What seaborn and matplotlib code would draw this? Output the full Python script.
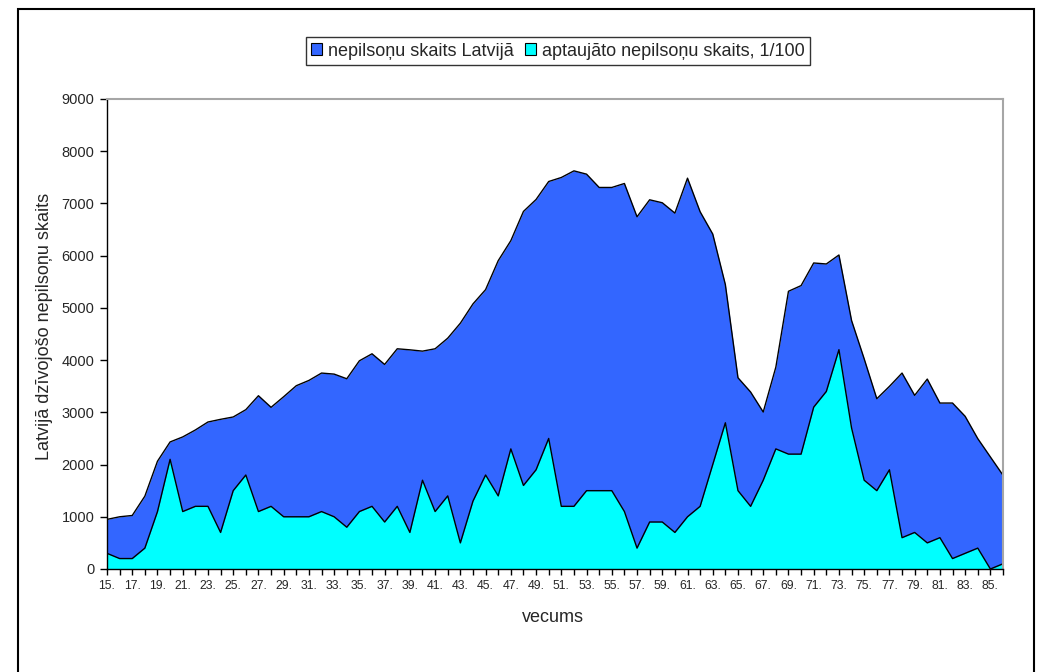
import numpy as np
import pandas as pd
import seaborn as sns
import matplotlib.pyplot as plt
from matplotlib.patches import Patch, Rectangle

# Data
ages = list(range(15, 87))
latvija = [950, 1000, 1025, 1395, 2064, 2433, 2529, 2662, 2815, 2866,
           2911, 3051, 3318, 3096, 3299, 3510, 3611, 3752, 3732, 3643,
           3987, 4121, 3917, 4217, 4197, 4172, 4217, 4420, 4707, 5076,
           5350, 5904, 6287, 6847, 7076, 7420, 7497, 7624, 7561, 7306,
           7306, 7382, 6745, 7070, 7013, 6815, 7484, 6841, 6414, 5446,
           3662, 3389, 3006, 3866, 5318, 5427, 5860, 5841, 6013, 4758,
           4025, 3261, 3497, 3752, 3325, 3637, 3178, 3178, 2924, 2497,
           2146, 1796]
aptaujato = [300, 200, 200, 400, 1100, 2100, 1100, 1200, 1200, 700,
             1500, 1800, 1100, 1200, 1000, 1000, 1000, 1100, 1000, 800,
             1100, 1200, 900, 1200, 700, 1700, 1100, 1400, 500, 1300,
             1800, 1400, 2300, 1600, 1900, 2500, 1200, 1200, 1500, 1500,
             1500, 1100, 400, 900, 900, 700, 1000, 1200, 2000, 2800,
             1500, 1200, 1700, 2300, 2200, 2200, 3100, 3400, 4200, 2700,
             1700, 1500, 1900, 600, 700, 500, 600, 200, 300, 400,
             0, 100]
tick_labels = [f"{a}." if (a - 15) % 2 == 0 else "" for a in ages]

name_blue = "nepilsoņu skaits Latvijā"
name_cyan = "aptaujāto nepilsoņu skaits, 1/100"

df = pd.DataFrame({"vecums": ages, name_blue: latvija, name_cyan: aptaujato})

sns.set_theme(style="white")
plt.rcParams["font.family"] = ["Liberation Sans", "DejaVu Sans"]

blue = "#3366FF"
cyan = "#00FFFF"

fig = plt.figure(figsize=(10.38, 6.72), dpi=100)
ax = fig.add_axes([107 / 1038, 1 - 569 / 672, 896 / 1038, 470 / 672])

ax.fill_between(df["vecums"], df[name_blue], color=blue, lw=0)
sns.lineplot(data=df, x="vecums", y=name_blue, color="black", lw=1, ax=ax)
ax.fill_between(df["vecums"], df[name_cyan], color=cyan, lw=0)
sns.lineplot(data=df, x="vecums", y=name_cyan, color="black", lw=1, ax=ax)

ax.set_xlim(15, 86)
ax.set_ylim(0, 9000)
ax.set_yticks(range(0, 9001, 1000))
ax.set_xticks(ages)
ax.set_xticklabels(tick_labels, fontsize=8.8)
ax.tick_params(axis="y", labelsize=10.5, length=5, width=1, direction="out",
               left=True, pad=4, color="black")
ax.tick_params(axis="x", length=4, width=1, direction="out", bottom=True,
               pad=4, color="black")

for s in ["left", "bottom"]:
    ax.spines[s].set_color("black")
    ax.spines[s].set_linewidth(1)
for s in ["top", "right"]:
    ax.spines[s].set_color("#a6a6a6")
    ax.spines[s].set_linewidth(1.5)

ax.set_xlabel("")
ax.set_ylabel("")
fig.text(45 / 1038, 1 - 326 / 672, "Latvijā dzīvojošo nepilsoņu skaits",
         rotation=90, ha="center", va="center", fontsize=13)
fig.text(553 / 1038, 1 - 618 / 672, "vecums", ha="center", va="center",
         fontsize=13)

handles = [Patch(facecolor=blue, edgecolor="black", lw=0.8, label=name_blue),
           Patch(facecolor=cyan, edgecolor="black", lw=0.8, label=name_cyan)]
leg = fig.legend(handles=handles, loc="center", ncol=2,
                 bbox_to_anchor=(558 / 1038, 1 - 51 / 672), fontsize=13,
                 frameon=True, fancybox=False, handlelength=0.6,
                 handleheight=0.6, handletextpad=0.35, columnspacing=0.6,
                 borderpad=0.3, borderaxespad=0)
leg.get_frame().set_edgecolor("black")
leg.get_frame().set_linewidth(1)

# outer chart border
fig.patches.append(Rectangle((18 / 1038, -0.02), 1016 / 1038, 0.02 + 1 - 9 / 672,
                             transform=fig.transFigure, fill=False,
                             edgecolor="black", lw=1.5))

fig.savefig("out.png", dpi=100)
